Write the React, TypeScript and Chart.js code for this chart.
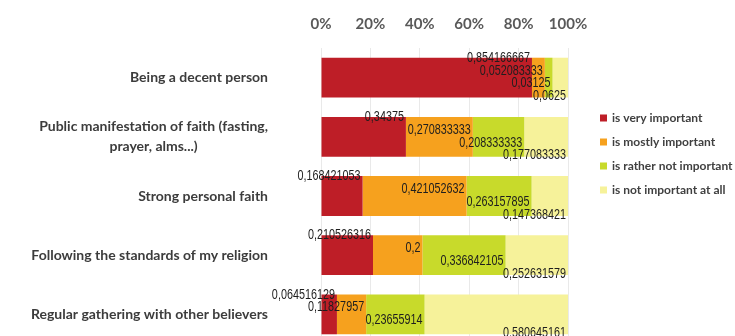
import React, { useEffect, useRef } from "react";
import { Chart, registerables } from "chart.js";

Chart.register(...registerables);

// Survey items (y axis)
const categories: (string | string[])[] = [
  "Being a decent person",
  ["Public manifestation of faith (fasting,", "prayer, alms...)"],
  "Strong personal faith",
  "Following the standards of my religion",
  "Regular gathering with other believers",
];

// Share of answers per item
const veryImportant = [0.854166667, 0.34375, 0.168421053, 0.210526316, 0.064516129];
const mostlyImportant = [0.052083333, 0.270833333, 0.421052632, 0.2, 0.11827957];
const ratherNotImportant = [0.03125, 0.208333333, 0.263157895, 0.336842105, 0.23655914];
const notImportantAtAll = [0.0625, 0.177083333, 0.147368421, 0.252631579, 0.580645161];

const seriesNames = [
  "is very important",
  "is mostly important",
  "is rather not important",
  "is not important at all",
];
const seriesColors = ["#BE1E27", "#F6A11E", "#C8DA2B", "#F6F29A"];

const xTicks = [0, 0.2, 0.4, 0.6, 0.8, 1];

const fmt = (v: number) => String(v).replace(".", ",");

// Category labels on the left, with multi-line labels centred as a block
const categoryLabels = {
  id: "categoryLabels",
  afterDraw(chart: any) {
    const { ctx, chartArea, scales } = chart;
    const yScale = scales.y;
    const rightEdge = chartArea.left - 53;
    ctx.save();
    ctx.font = "bold 14px Lato";
    ctx.fillStyle = "#3c3c3c";
    ctx.textBaseline = "middle";
    categories.forEach((label, idx) => {
      const cy = yScale.getPixelForValue(idx);
      const lines = Array.isArray(label) ? label : [label];
      const widths = lines.map((l) => ctx.measureText(l).width);
      const maxW = Math.max(...widths);
      const lh = 20;
      const startY = cy - ((lines.length - 1) * lh) / 2;
      ctx.textAlign = "center";
      lines.forEach((l, li) => {
        ctx.fillText(l, rightEdge - maxW / 2, startY + li * lh);
      });
    });
    ctx.restore();
  },
};

// Value labels at the end of each segment, staggered vertically per series
const valueLabels = {
  id: "valueLabels",
  afterDatasetsDraw(chart: any) {
    const { ctx } = chart;
    ctx.save();
    ctx.font = "15px 'Liberation Sans', Arial, sans-serif";
    ctx.fillStyle = "#1e1e1e";
    ctx.textAlign = "right";
    ctx.textBaseline = "middle";
    chart.data.datasets.forEach((ds: any, di: number) => {
      const meta = chart.getDatasetMeta(di);
      meta.data.forEach((bar: any, i: number) => {
        const v = ds.data[i];
        const dy = di * 12.8 - 20;
        ctx.save();
        ctx.translate(bar.x - 2, bar.y + dy);
        ctx.scale(0.72, 1); // condensed look
        ctx.fillText(fmt(v), 0, 0);
        ctx.restore();
      });
    });
    ctx.restore();
  },
};

// Legend to the right of the plot
const sideLegend = {
  id: "sideLegend",
  afterDraw(chart: any) {
    const { ctx, chartArea } = chart;
    ctx.save();
    ctx.font = "bold 12px Lato";
    ctx.textAlign = "left";
    ctx.textBaseline = "middle";
    seriesNames.forEach((name, i) => {
      const y = chartArea.top + 70 + i * 24;
      const x = chartArea.right + 32;
      ctx.fillStyle = seriesColors[i];
      ctx.fillRect(x, y - 3.5, 7, 7);
      ctx.fillStyle = "#404040";
      ctx.fillText(name, x + 12, y);
    });
    ctx.restore();
  },
};

export default function App() {
  const canvasRef = useRef<HTMLCanvasElement | null>(null);

  useEffect(() => {
    const canvas = canvasRef.current;
    if (!canvas) return;
    const seriesValues = [veryImportant, mostlyImportant, ratherNotImportant, notImportantAtAll];
    const chart = new Chart(canvas, {
      type: "bar",
      data: {
        labels: categories.map((c) => (Array.isArray(c) ? c.join(" ") : c)),
        datasets: seriesValues.map((values, i) => ({
          label: seriesNames[i],
          data: values,
          backgroundColor: seriesColors[i],
          borderWidth: 0,
          categoryPercentage: 0.672,
          barPercentage: 1,
        })),
      },
      options: {
        indexAxis: "y",
        responsive: false,
        animation: false,
        devicePixelRatio: 1,
        layout: { padding: { left: 321, right: 167, top: 0, bottom: 0 } },
        plugins: {
          legend: { display: false },
          tooltip: { enabled: false },
        },
        scales: {
          x: {
            position: "top",
            stacked: true,
            min: 0,
            max: 1,
            afterBuildTicks: (scale: any) => {
              scale.ticks = xTicks.map((v) => ({ value: v }));
            },
            ticks: {
              padding: 15,
              color: "#595959",
              font: { family: "Lato", size: 15, weight: "bold" },
              callback: (v: any) => `${Math.round(Number(v) * 100)}%`,
            },
            grid: { color: "#e9e9e9", drawTicks: false },
            border: { display: false },
          },
          y: {
            stacked: true,
            display: false,
          },
        },
      },
      plugins: [valueLabels, categoryLabels, sideLegend],
    } as any);
    return () => chart.destroy();
  }, []);

  return (
    <div
      style={{
        position: "fixed",
        left: 0,
        top: 0,
        width: 735,
        height: 336,
        overflow: "hidden",
        background: "#ffffff",
      }}
    >
      <canvas
        ref={canvasRef}
        width={735}
        height={344}
        style={{ display: "block", width: 735, height: 344 }}
      />
    </div>
  );
}
